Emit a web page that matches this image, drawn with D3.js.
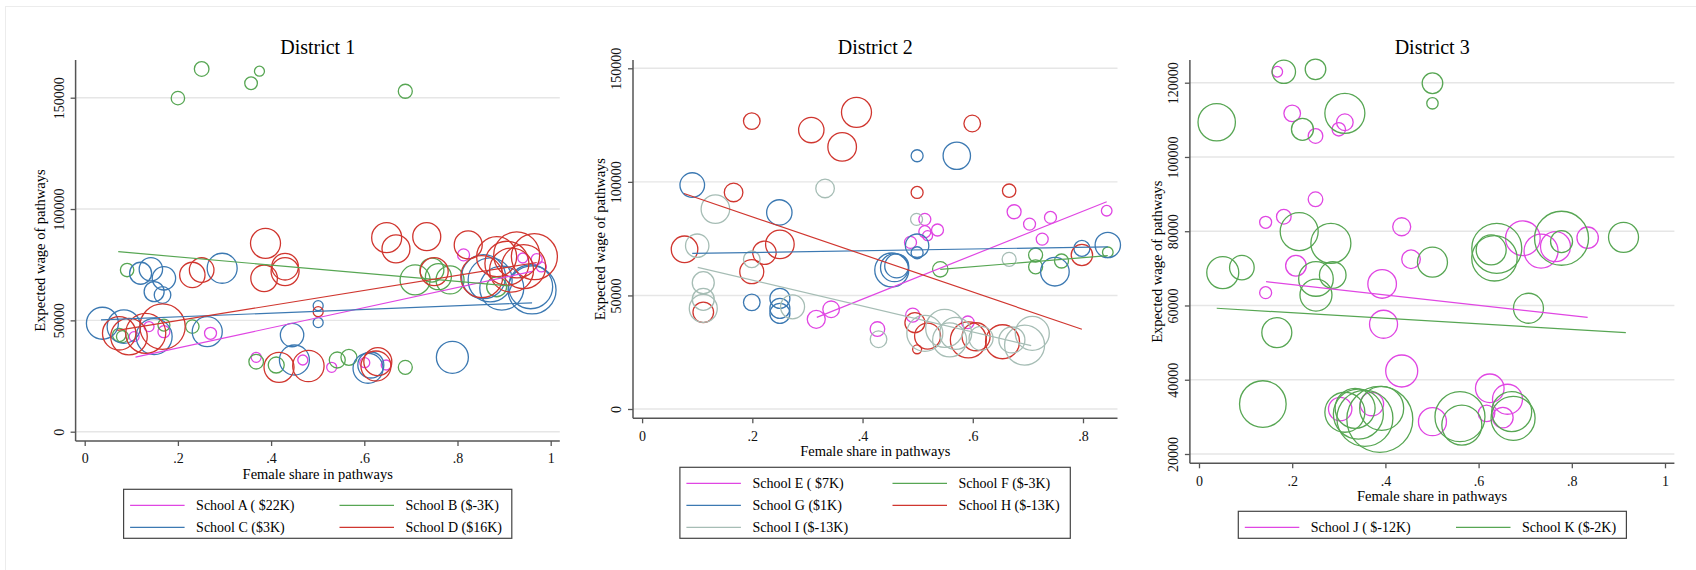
<!DOCTYPE html>
<html>
<head>
<meta charset="utf-8">
<script src="https://cdn.jsdelivr.net/npm/d3@7"></script>
<style>
  body { margin: 0; background: #fff; }
  svg { display: block; font-family: "Liberation Serif", "DejaVu Serif", serif; }
</style>
</head>
<body>
<div id="chart"></div>
<script>
// each point: [female share, expected wage, pathway size]
const schoolA = [[0.106, 42700, 50], [0.138, 47200, 50], [0.170, 44900, 72], [0.270, 44200, 72], [0.368, 33400, 50],
    [0.468, 32200, 50], [0.530, 28900, 50], [0.601, 31000, 50], [0.647, 29950, 50], [0.813, 79400, 72],
    [0.940, 78000, 50], [0.970, 77500, 60], [0.980, 74000, 50]];
const schoolB = [[0.200, 149800, 90], [0.251, 162900, 107], [0.357, 156500, 80], [0.375, 161900, 50], [0.688, 152900, 98],
    [0.091, 72600, 90], [0.074, 43400, 90], [0.081, 42700, 72], [0.170, 47900, 72], [0.231, 47200, 90],
    [0.368, 31450, 107], [0.411, 29950, 128], [0.542, 32200, 128], [0.567, 33400, 128], [0.688, 28900, 98],
    [0.709, 68150, 450], [0.745, 72600, 288], [0.759, 69600, 338], [0.784, 68150, 392], [0.884, 65100, 200]];
const schoolC = [[0.038, 48700, 512], [0.084, 47200, 558], [0.120, 71150, 242], [0.142, 72950, 274], [0.170, 68900, 274],
    [0.149, 62900, 200], [0.167, 61400, 138], [0.149, 42700, 648], [0.263, 44900, 450], [0.295, 73400, 450],
    [0.445, 43400, 274], [0.450, 32200, 450], [0.501, 56600, 50], [0.501, 49000, 50], [0.608, 28500, 450],
    [0.614, 29950, 338], [0.789, 33400, 512], [0.856, 69600, 968], [0.870, 68150, 968], [0.895, 64500, 968],
    [0.957, 65100, 968], [0.960, 63650, 1152]];
const schoolD = [[0.074, 44200, 558], [0.095, 42700, 670], [0.131, 44200, 800], [0.167, 47200, 1030], [0.231, 70400, 322],
    [0.251, 72600, 303], [0.388, 84600, 450], [0.385, 68900, 354], [0.430, 71900, 392], [0.430, 74100, 354],
    [0.417, 28900, 450], [0.480, 29500, 493], [0.501, 53900, 50], [0.629, 31450, 392], [0.625, 29500, 450],
    [0.648, 87150, 450], [0.668, 82100, 392], [0.734, 87600, 392], [0.750, 71900, 392], [0.823, 83900, 392],
    [0.852, 69600, 882], [0.884, 78600, 800], [0.906, 75650, 968], [0.916, 72600, 968], [0.927, 79400, 1058],
    [0.942, 74100, 968], [0.965, 78600, 1058]];

const schoolE = [[0.316, 39500, 162], [0.343, 43900, 138], [0.427, 35200, 107], [0.491, 41350, 98], [0.487, 73350, 72],
    [0.513, 83500, 72], [0.513, 78050, 72], [0.518, 76300, 50], [0.536, 78800, 72], [0.591, 38150, 80],
    [0.675, 86850, 98], [0.703, 81400, 72], [0.726, 74800, 72], [0.741, 84350, 72], [0.843, 87300, 56]];
const schoolF = [[0.541, 61500, 118], [0.714, 67800, 98], [0.714, 62600, 98], [0.761, 65150, 98], [0.845, 69000, 56]];
const schoolG = [[0.091, 98600, 303], [0.199, 46950, 138], [0.249, 86550, 322], [0.250, 48700, 200], [0.250, 44300, 200],
    [0.250, 42100, 200], [0.453, 61200, 578], [0.458, 62200, 392], [0.462, 63000, 288], [0.499, 111500, 72],
    [0.499, 71900, 274], [0.499, 68800, 72], [0.571, 111500, 375], [0.749, 60450, 409], [0.798, 70700, 128],
    [0.845, 72200, 322]];
const schoolH = [[0.077, 70300, 354], [0.111, 42550, 212], [0.166, 95350, 173], [0.199, 126750, 138], [0.199, 60450, 288],
    [0.222, 68800, 274], [0.250, 72500, 409], [0.307, 122800, 322], [0.363, 115400, 409], [0.389, 130600, 450],
    [0.495, 38000, 200], [0.499, 95350, 72], [0.499, 26300, 40], [0.518, 32100, 338], [0.592, 30400, 648],
    [0.599, 125700, 138], [0.606, 31800, 392], [0.654, 29600, 578], [0.666, 96100, 90], [0.798, 67800, 229]];
const schoolI = [[0.100, 71900, 274], [0.111, 55600, 242], [0.111, 48300, 242], [0.111, 44300, 392], [0.133, 88000, 409],
    [0.199, 65900, 138], [0.273, 45000, 288], [0.332, 97100, 173], [0.429, 30700, 138], [0.498, 83500, 72],
    [0.513, 33300, 648], [0.549, 35500, 722], [0.558, 30400, 578], [0.569, 33300, 512], [0.615, 31100, 288],
    [0.666, 65900, 98], [0.671, 30400, 338], [0.694, 28150, 800], [0.708, 33300, 578]];

const schoolJ = [[0.168, 122950, 56], [0.200, 111750, 138], [0.250, 105650, 107], [0.313, 109350, 138], [0.300, 107450, 90],
    [0.250, 88600, 107], [0.143, 82400, 72], [0.182, 83900, 107], [0.435, 81200, 162], [0.208, 70700, 212],
    [0.143, 63450, 72], [0.393, 65800, 409], [0.455, 72450, 173], [0.396, 54950, 392], [0.435, 42350, 512],
    [0.303, 32100, 274], [0.371, 33450, 274], [0.501, 28700, 392], [0.624, 37700, 409], [0.662, 34750, 450],
    [0.617, 30950, 138], [0.652, 29800, 212], [0.695, 78100, 599], [0.734, 74650, 578], [0.765, 75850, 450],
    [0.834, 78250, 229]];
const schoolK = [[0.182, 122950, 274], [0.250, 123600, 212], [0.038, 109350, 699], [0.222, 107450, 242], [0.313, 111750, 800],
    [0.501, 119850, 212], [0.501, 114450, 65], [0.215, 79900, 722], [0.283, 76750, 800], [0.051, 68850, 512],
    [0.092, 70200, 303], [0.251, 67150, 599], [0.287, 68200, 354], [0.251, 62800, 512], [0.501, 71650, 450],
    [0.167, 52700, 450], [0.639, 75400, 1250], [0.627, 74950, 450], [0.634, 72700, 1030], [0.778, 78100, 1458],
    [0.778, 77200, 242], [0.911, 78350, 450], [0.707, 59250, 450], [0.137, 33450, 1086], [0.313, 31250, 800],
    [0.335, 32300, 800], [0.342, 30750, 1250], [0.356, 29600, 1568], [0.392, 32300, 968], [0.388, 29350, 2178],
    [0.560, 30050, 1250], [0.564, 27800, 800], [0.671, 31400, 800], [0.674, 29600, 968]];

// fitted lines: [start, end]
const fitA = [[0.109, 33500], [0.960, 72000]];
const fitB = [[0.072, 80850], [0.910, 65500]];
const fitC = [[0.035, 50200], [0.960, 57900]];
const fitD = [[0.070, 45500], [0.970, 76000]];
const fitE = [[0.317, 40350], [0.843, 91250]];
const fitF = [[0.541, 61500], [0.845, 67500]];
const fitG = [[0.091, 68500], [0.845, 71400]];
const fitH = [[0.076, 94900], [0.798, 35100]];
const fitI = [[0.101, 62350], [0.706, 27900]];
const fitJ = [[0.144, 66400], [0.834, 56800]];
const fitK = [[0.038, 59250], [0.916, 52700]];

const labels1 = ["School A ( $22K)", "School B ($-3K)", "School C ($3K)", "School D ($16K)"];
const labels2 = ["School E ( $7K)", "School F ($-3K)", "School G ($1K)", "School H ($-13K)", "School I ($-13K)"];
const labels3 = ["School J ( $-12K)", "School K ($-2K)"];
const titles = ["District 1", "District 2", "District 3"];

const xTicks1 = [0, 0.2, 0.4, 0.6, 0.8, 1];
const xTicks2 = [0, 0.2, 0.4, 0.6, 0.8];
const yTicks1 = [0, 50000, 100000, 150000];
const yTicks3 = [20000, 40000, 60000, 80000, 100000, 120000];

const magenta = "#e046e3", green = "#57a653", blue = "#3c79b2", red = "#d0362f", grey = "#a6bdb5";

const width = 1696, height = 570;
const svg = d3.select("#chart").append("svg")
    .attr("width", width)
    .attr("height", height);

// faint frame of the screenshot
svg.append("rect")
    .attr("x", 5.5).attr("y", 6.5)
    .attr("width", 1720).attr("height", 600)
    .attr("fill", "none").attr("stroke", "#ececec");

const rScale = d3.scaleSqrt().domain([0, 2000]).range([0, Math.sqrt(1000)]);

const panels = [
    {
        title: titles[0],
        series: [
            { pts: schoolA, fit: fitA, color: magenta, label: labels1[0] },
            { pts: schoolB, fit: fitB, color: green, label: labels1[1] },
            { pts: schoolC, fit: fitC, color: blue, label: labels1[2] },
            { pts: schoolD, fit: fitD, color: red, label: labels1[3] },
        ],
        x: d3.scaleLinear().domain([0, 1]).range([84.7, 550.7]),
        y: d3.scaleLinear().domain([0, 150000]).range([431.7, 97.7]),
        box: { left: 75.6, right: 559.8, top: 60, bottom: 441 },
        xTicks: xTicks1, yTicks: yTicks1, yTitleOff: 35.5,
        legend: { x0: 123.6, x1: 511.8, col2: 209.4 },
    },
    {
        title: titles[1],
        series: [
            { pts: schoolE, fit: fitE, color: magenta, label: labels2[0] },
            { pts: schoolF, fit: fitF, color: green, label: labels2[1] },
            { pts: schoolG, fit: fitG, color: blue, label: labels2[2] },
            { pts: schoolH, fit: fitH, color: red, label: labels2[3] },
            { pts: schoolI, fit: fitI, color: grey, label: labels2[4] },
        ],
        x: d3.scaleLinear().domain([0, 0.8]).range([642.1, 1083]),
        y: d3.scaleLinear().domain([0, 150000]).range([409, 68.3]),
        box: { left: 633, right: 1117.5, top: 60, bottom: 418.3 },
        xTicks: xTicks2, yTicks: yTicks1, yTitleOff: 33,
        legend: { x0: 679.9, x1: 1070.3, col2: 206.1 },
    },
    {
        title: titles[2],
        series: [
            { pts: schoolJ, fit: fitJ, color: magenta, label: labels3[0] },
            { pts: schoolK, fit: fitK, color: green, label: labels3[1] },
        ],
        x: d3.scaleLinear().domain([0, 1]).range([1199, 1665]),
        y: d3.scaleLinear().domain([20000, 120000]).range([454, 82.7]),
        box: { left: 1189.9, right: 1674.4, top: 60, bottom: 463.3 },
        xTicks: xTicks1, yTicks: yTicks3, yTitleOff: 33,
        legend: { x0: 1238.3, x1: 1626.4, col2: 211.2 },
    },
];

const fmtX = (d) => (d === 0 ? "0" : d === 1 ? "1" : d3.format(".1f")(d).replace(/^0/, ""));

panels.forEach((p) => {
    const g = svg.append("g");
    const b = p.box;
    const cx = (b.left + b.right) / 2;

    // grid lines
    g.append("g")
        .selectAll("line")
        .data(p.yTicks)
        .join("line")
        .attr("x1", b.left).attr("x2", b.right)
        .attr("y1", (d) => p.y(d)).attr("y2", (d) => p.y(d))
        .attr("stroke", "#e6e6e6")
        .attr("stroke-width", 1.4);

    // y axis
    const ya = g.append("g")
        .attr("transform", `translate(${b.left},0)`)
        .call(d3.axisLeft(p.y).tickValues(p.yTicks).tickSize(5).tickSizeOuter(0).tickFormat(d3.format("d")));
    ya.select(".domain").remove();
    ya.selectAll(".tick line").attr("stroke", "#555").attr("stroke-width", 1.3);
    ya.selectAll(".tick text")
        .attr("x", null).attr("dy", "0.35em")
        .attr("transform", "translate(-17,0) rotate(-90)")
        .attr("text-anchor", "middle")
        .attr("fill", "#111")
        .style("font-size", "14px")
        .style("font-family", "Liberation Serif, serif");

    // x axis
    const xa = g.append("g")
        .attr("transform", `translate(0,${b.bottom})`)
        .call(d3.axisBottom(p.x).tickValues(p.xTicks).tickSize(5).tickSizeOuter(0).tickFormat(fmtX));
    xa.select(".domain").remove();
    xa.selectAll(".tick line").attr("stroke", "#555").attr("stroke-width", 1.3);
    xa.selectAll(".tick text")
        .attr("y", 17.5).attr("dy", "0.35em")
        .attr("fill", "#111")
        .style("font-size", "14px")
        .style("font-family", "Liberation Serif, serif");

    // axis lines
    g.append("line")
        .attr("x1", b.left).attr("x2", b.left)
        .attr("y1", b.top).attr("y2", b.bottom)
        .attr("stroke", "#555").attr("stroke-width", 1.5);
    g.append("line")
        .attr("x1", b.left).attr("x2", b.right)
        .attr("y1", b.bottom).attr("y2", b.bottom)
        .attr("stroke", "#555").attr("stroke-width", 1.5);

    // bubbles
    p.series.forEach((s) => {
        g.append("g")
            .selectAll("circle")
            .data(s.pts)
            .join("circle")
            .attr("cx", (d) => p.x(d[0]))
            .attr("cy", (d) => p.y(d[1]))
            .attr("r", (d) => rScale(d[2]))
            .attr("fill", "none")
            .attr("stroke", s.color)
            .attr("stroke-width", 1.3);
    });

    // fitted lines
    p.series.forEach((s) => {
        g.append("path")
            .datum(s.fit)
            .attr("d", d3.line().x((d) => p.x(d[0])).y((d) => p.y(d[1])))
            .attr("fill", "none")
            .attr("stroke", s.color)
            .attr("stroke-width", 1.2);
    });

    // titles
    g.append("text")
        .attr("x", cx).attr("y", 47).attr("dy", "0.35em")
        .attr("text-anchor", "middle")
        .style("font-size", "20px")
        .text(p.title);

    g.append("text")
        .attr("x", cx).attr("y", b.bottom + 33).attr("dy", "0.35em")
        .attr("text-anchor", "middle")
        .style("font-size", "14.5px")
        .text("Female share in pathways");

    g.append("text")
        .attr("transform", `translate(${b.left - p.yTitleOff},${(b.top + b.bottom) / 2}) rotate(-90)`)
        .attr("dy", "0.35em")
        .attr("text-anchor", "middle")
        .style("font-size", "14.5px")
        .text("Expected wage of pathways");

    // legend
    const rows = Math.ceil(p.series.length / 2);
    const ly1 = 538.3, ly0 = ly1 - (27 + 22 * (rows - 1));
    const lg = g.append("g");
    lg.append("rect")
        .attr("x", p.legend.x0).attr("y", ly0)
        .attr("width", p.legend.x1 - p.legend.x0).attr("height", ly1 - ly0)
        .attr("fill", "#fff").attr("stroke", "#444").attr("stroke-width", 1.2);
    const item = lg.selectAll("g.item")
        .data(p.series)
        .join("g")
        .attr("class", "item")
        .attr("transform", (d, i) =>
            `translate(${p.legend.x0 + (i % 2) * p.legend.col2},${ly0 + 16 + Math.floor(i / 2) * 22})`);
    item.append("line")
        .attr("x1", 6.5).attr("x2", 61)
        .attr("stroke", (d) => d.color).attr("stroke-width", 1.3);
    item.append("text")
        .attr("x", 72.5).attr("dy", "0.35em")
        .style("font-size", "14px")
        .text((d) => d.label);
});
</script>
</body>
</html>
